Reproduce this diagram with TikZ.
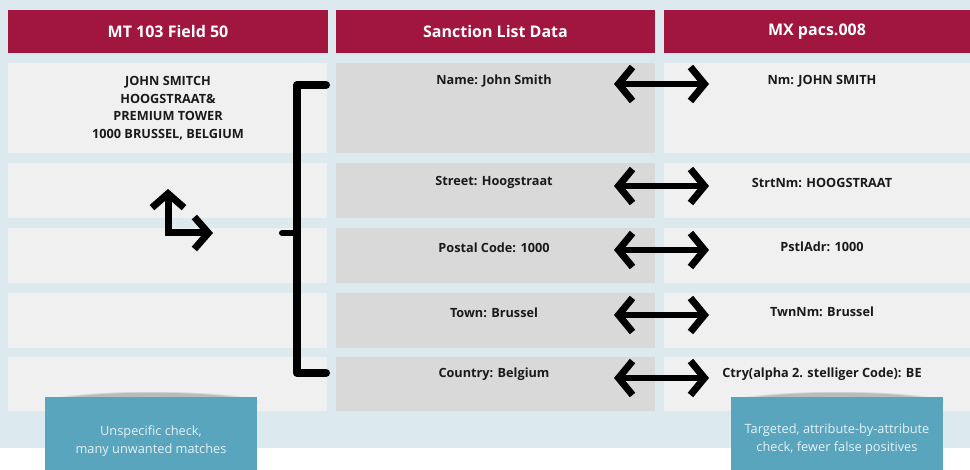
\documentclass[tikz,border=0pt]{standalone}
\usepackage{fontspec}
\setmainfont{Open Sans}
\usetikzlibrary{arrows.meta,fadings}

\definecolor{pagebg}{HTML}{DCEAF0}
\definecolor{headred}{HTML}{A0163F}
\definecolor{cellA}{HTML}{F0F0F0}
\definecolor{cellB}{HTML}{D9D9D9}
\definecolor{noteteal}{HTML}{58A5BD}
\definecolor{notetext}{HTML}{E8F1F5}
\definecolor{ink}{HTML}{1A1A1A}

\tikzset{
  hdr/.style={fill=headred, text=white, minimum height=43pt, inner sep=0pt,
    font=\fontsize{16}{18}\selectfont\bfseries},
  celltext/.style={text=ink, font=\fontsize{12.7}{17.5}\selectfont\bfseries, align=center, inner sep=0pt},
  note/.style={fill=noteteal, text=notetext, inner sep=0pt, align=center,
    font=\fontsize{12.8}{17.5}\selectfont},
  match/.style={line width=5.5pt, {Straight Barb[length=14pt,width=34pt,line width=7pt]}-{Straight Barb[length=14pt,width=34pt,line width=7pt]}},
  turn/.style={line width=7pt, line join=miter, {Straight Barb[length=14pt,width=32pt,line width=7pt]}-{Straight Barb[length=14pt,width=32pt,line width=7pt]}},
  brace/.style={line width=8pt, line cap=round, line join=round},
}

\begin{document}
\begin{tikzpicture}[x=1pt,y=-1pt]
\useasboundingbox (0,0) rectangle (970,470);
\fill[pagebg] (0,0) rectangle (970,448);

% column headers
\node[hdr, minimum width=320pt] (h1) at (168,31.5) {MT 103 Field 50};
\node[hdr, minimum width=319pt] (h2) at (495.5,31.5) {Sanction List Data};
\node[hdr, minimum width=306pt] (h3) at (817,31.5) {MX pacs.008};

% row cells
\foreach \ya/\yb in {63/153,163/218,228/283,293/348,357/411}{
  \fill[cellA] (8,\ya) rectangle (327,\yb);
  \fill[cellB] (336,\ya) rectangle (655,\yb);
  \fill[cellA] (664,\ya) rectangle (970,\yb);
}

% MT 103 free-text field
\node[celltext] (mt) at (168,108) {JOHN SMITCH\\HOOGSTRAAT\&\\PREMIUM TOWER\\1000 BRUSSEL, BELGIUM};

% sanction list attributes
\node[celltext] (s1) at (494,81.5) {Name: John Smith};
\node[celltext] (s2) at (494,182.5) {Street: Hoogstraat};
\node[celltext] (s3) at (494,247.5) {Postal Code: 1000};
\node[celltext] (s4) at (494,312.5) {Town: Brussel};
\node[celltext] (s5) at (494,374.5) {Country: Belgium};

% pacs.008 attributes
\node[celltext] (m1) at (822,81.5) {Nm: JOHN SMITH};
\node[celltext] (m2) at (822,182.5) {StrtNm: HOOGSTRAAT};
\node[celltext] (m3) at (822,246.5) {PstlAdr: 1000};
\node[celltext] (m4) at (822,311.5) {TwnNm: Brussel};
\node[celltext] (m5) at (822,374.5) {Ctry(alpha 2. stelliger Code): BE};

% attribute-by-attribute matching arrows
\foreach \i/\y in {1/84,2/186,3/250,4/315,5/378}{
  \coordinate (la\i) at (614,\y);
  \coordinate (ra\i) at (709,\y);
  \draw[match] (la\i) -- (ra\i);
}

% bracket grouping all sanction attributes
\coordinate (bt) at (326,85);
\coordinate (btl) at (297,85);
\coordinate (bbl) at (297,373);
\coordinate (bb) at (326,373);
\coordinate (bm) at (297,233);
\coordinate (bmt) at (282,233);
\draw[brace] (bt) -- (btl) -- (bbl) -- (bb);
\draw[line width=6pt, line cap=round] (bm) -- (bmt);

% turn arrow in the free-text column
\coordinate (tu) at (168,189);
\coordinate (tc) at (168,233);
\coordinate (tr) at (213,233);
\draw[turn] (tu) -- (tc) -- (tr);

% soft shadows above the notes
\fill[black, opacity=.22, path fading=circle with fuzzy edge 15 percent] (151,402) ellipse [x radius=108, y radius=11];
\fill[black, opacity=.22, path fading=circle with fuzzy edge 15 percent] (837,402) ellipse [x radius=108, y radius=11];

% notes
\node[note, minimum width=212pt, minimum height=73pt] (n1) at (151,433.5) {};
\node[note, minimum width=212pt, minimum height=73pt] (n2) at (837,433.5) {};
\node[note, fill=none] (t1) at (151,441) {Unspecific check,\\many unwanted matches};
\node[note, fill=none] (t2) at (837,439) {Targeted, attribute-by-attribute\\check, fewer false positives};
\end{tikzpicture}
\end{document}
